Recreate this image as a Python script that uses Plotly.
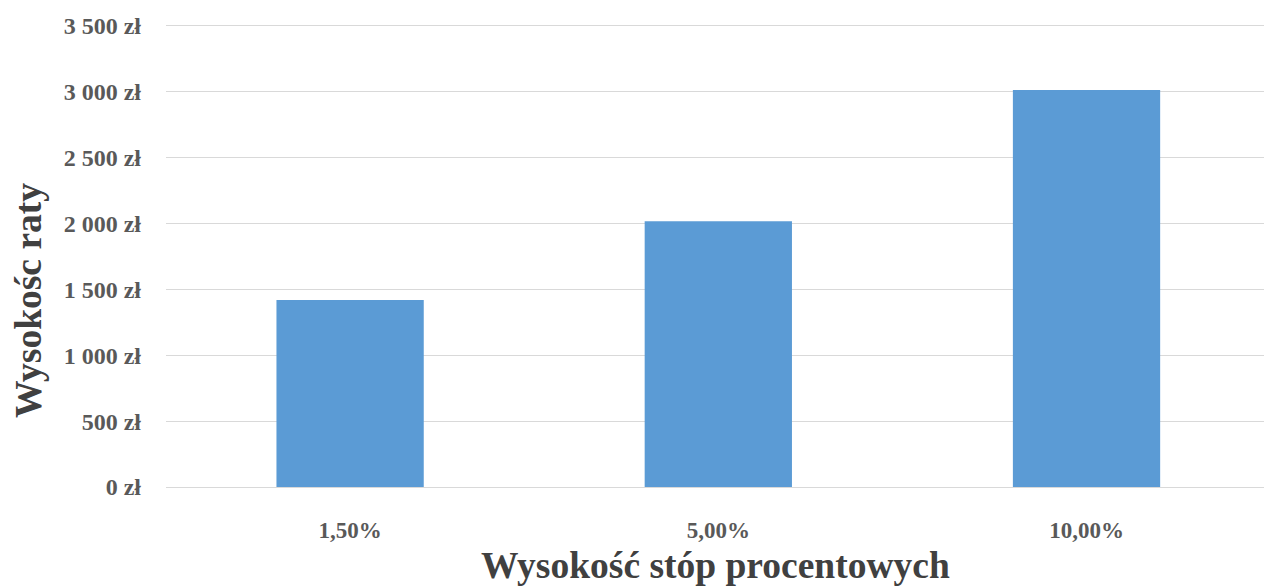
import plotly.graph_objects as go

# Interest rate levels and the resulting monthly installment (PLN)
rates = ["1,50%", "5,00%", "10,00%"]
installments = [1419, 2017, 3015]

# Y axis ticks
y_tick_vals = [0, 500, 1000, 1500, 2000, 2500, 3000, 3500]
y_tick_text = ["0 zł", "500 zł", "1 000 zł", "1 500 zł", "2 000 zł",
               "2 500 zł", "3 000 zł", "3 500 zł"]

x_title = "Wysokość stóp procentowych"
y_title = "Wysokośc raty"

SERIF = "Liberation Serif, Times New Roman, serif"
GRID = "#D9D9D9"

fig = go.Figure(
    go.Bar(
        x=list(range(len(rates))),
        y=installments,
        width=0.4,
        marker=dict(color="#5B9BD5", line=dict(width=0)),
        hoverinfo="skip",
    )
)

fig.update_layout(
    width=1264,
    height=587,
    margin=dict(l=166, r=0, t=26, b=100),
    paper_bgcolor="white",
    plot_bgcolor="white",
    showlegend=False,
    font=dict(family=SERIF, color="#595959"),
    xaxis=dict(
        range=[-0.5, 2.482],
        tickmode="array",
        tickvals=list(range(len(rates))),
        ticktext=rates,
        tickfont=dict(family=SERIF, size=23, color="#595959", weight="bold"),
        showgrid=False,
        # bottom (0 zł) and top (3 500 zł) edges drawn as grid-coloured lines
        showline=True,
        linecolor=GRID,
        linewidth=1,
        mirror=True,
        zeroline=False,
        ticks="",
        ticklabelstandoff=22,
        fixedrange=True,
    ),
    yaxis=dict(
        range=[0, 3500],
        tickmode="array",
        tickvals=y_tick_vals,
        ticktext=y_tick_text,
        tickfont=dict(family=SERIF, size=24, color="#595959", weight="bold"),
        showgrid=True,
        gridcolor=GRID,
        gridwidth=1,
        zeroline=False,
        showline=False,
        ticks="",
        ticklabelstandoff=24,
        fixedrange=True,
    ),
    annotations=[
        dict(
            text=x_title,
            xref="paper", yref="paper",
            x=0.5, y=-0.17,
            xanchor="center", yanchor="middle",
            showarrow=False,
            font=dict(family=SERIF, size=37.5, color="#404040", weight="bold"),
        ),
        dict(
            text=y_title,
            xref="paper", yref="paper",
            x=-0.125, y=0.405,
            xanchor="center", yanchor="middle",
            textangle=-90,
            showarrow=False,
            font=dict(family=SERIF, size=37.5, color="#404040", weight="bold"),
        ),
    ],
)

fig.write_html("out.html", config={"displayModeBar": False})
